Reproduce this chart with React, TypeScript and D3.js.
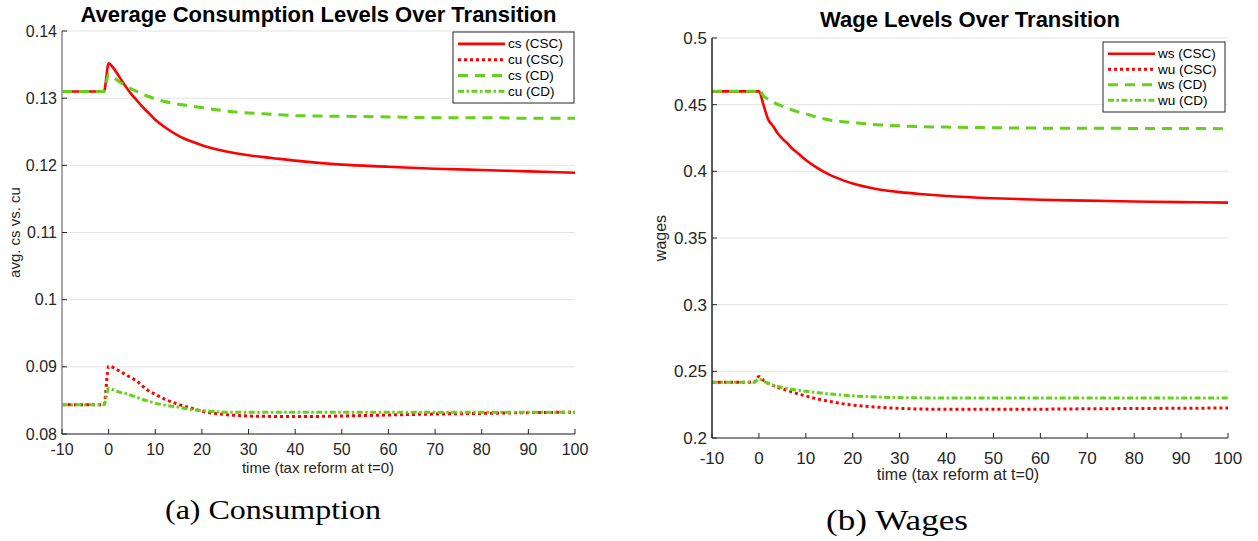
import * as d3 from 'd3'

// time grid (years since reform)
const tGrid = [-10, -5, -1, 0, 1, 2, 3, 4, 5, 6, 7, 8, 10, 12, 15, 18, 20, 25, 30, 35, 40, 50, 60, 70, 80, 90, 100]

// consumption panel
const csCSC = [0.131, 0.131, 0.131, 0.1352, 0.1345, 0.1335, 0.1324, 0.1314, 0.1305, 0.1297, 0.1289, 0.1282, 0.1268, 0.1257, 0.1244, 0.1235, 0.123, 0.1221, 0.1215, 0.1211, 0.1207, 0.1201, 0.1198, 0.1195, 0.1193, 0.1191, 0.1189]
const cuCSC = [0.08435, 0.08435, 0.08435, 0.0901, 0.0899, 0.0895, 0.0891, 0.0887, 0.0883, 0.0879, 0.0873, 0.0867, 0.0859, 0.0852, 0.0844, 0.0838, 0.0834, 0.0829, 0.08268, 0.08262, 0.08259, 0.08268, 0.08283, 0.08297, 0.08307, 0.08318, 0.08324]
const csCD = [0.131, 0.131, 0.131, 0.1336, 0.1331, 0.1326, 0.1321, 0.1317, 0.1313, 0.131, 0.1306, 0.1304, 0.1299, 0.1295, 0.1291, 0.1288, 0.1286, 0.1281, 0.1278, 0.1276, 0.1274, 0.1273, 0.1272, 0.1271, 0.1271, 0.127, 0.127]
const cuCD = [0.08435, 0.08435, 0.08435, 0.0868, 0.0866, 0.0863, 0.0861, 0.086, 0.0857, 0.0855, 0.0852, 0.085, 0.0846, 0.0843, 0.084, 0.0836, 0.0835, 0.08325, 0.08322, 0.08322, 0.08322, 0.08322, 0.08322, 0.08323, 0.08323, 0.08324, 0.08324]

// wage panel
const wsCSC = [0.46, 0.46, 0.46, 0.46, 0.4495, 0.4388, 0.434, 0.4285, 0.4245, 0.4213, 0.4175, 0.4145, 0.4085, 0.4035, 0.3975, 0.3932, 0.3908, 0.3868, 0.3844, 0.3828, 0.3815, 0.3798, 0.3787, 0.378, 0.3774, 0.3769, 0.3765]
const wuCSC = [0.2418, 0.2418, 0.2418, 0.2462, 0.243, 0.241, 0.2395, 0.238, 0.2368, 0.2357, 0.2346, 0.2335, 0.2315, 0.2297, 0.2275, 0.2256, 0.2247, 0.2232, 0.2222, 0.2217, 0.2215, 0.2215, 0.2216, 0.2219, 0.2221, 0.2223, 0.2225]
const wsCD = [0.46, 0.46, 0.46, 0.4615, 0.4565, 0.454, 0.452, 0.4503, 0.4489, 0.4475, 0.4462, 0.445, 0.4432, 0.441, 0.4385, 0.4372, 0.4366, 0.435, 0.4341, 0.4335, 0.4332, 0.4327, 0.4324, 0.4323, 0.4322, 0.4321, 0.432]
const wuCD = [0.2418, 0.2418, 0.2418, 0.2443, 0.2425, 0.241, 0.2397, 0.2387, 0.2379, 0.2372, 0.2366, 0.236, 0.235, 0.2342, 0.2331, 0.2321, 0.2316, 0.2308, 0.2303, 0.2301, 0.23, 0.23, 0.23, 0.23, 0.23, 0.23, 0.23]

const xTicks = [-10, 0, 10, 20, 30, 40, 50, 60, 70, 80, 90, 100]
const cTicks = [0.08, 0.09, 0.1, 0.11, 0.12, 0.13, 0.14]
const wTicks = [0.2, 0.25, 0.3, 0.35, 0.4, 0.45, 0.5]

const RED = '#ff0000'
const GREEN = '#66d11a'

interface Series {
  name: string
  values: number[]
  color: string
  dash: string
  width: number
}

interface PanelProps {
  x0: number
  x1: number
  yTop: number
  yBot: number
  domain: [number, number]
  yTicks: number[]
  tickFmt: (v: number) => string
  series: Series[]
  title: string
  titleY: number
  titleSize: number
  yLabel: string
  yLabelX: number
  yLabelSize: number
  xLabelX: number
  xLabelY: number
  xLabelSize: number
  tickSize: number
  xTickGap: number
  yAxisColor: string
  legend: { x: number; y: number; w: number; h: number }
}

function Panel(p: PanelProps) {
  const x = d3.scaleLinear().domain([-10, 100]).range([p.x0, p.x1])
  const y = d3.scaleLinear().domain(p.domain).range([p.yBot, p.yTop])
  const line = d3.line<number>()
    .x((_, i) => x(tGrid[i]))
    .y(d => y(d))
    .curve(d3.curveMonotoneX)
  const font = 'Liberation Sans, Arial, sans-serif'
  const rowH = (p.legend.h - 8) / 4

  return (
    <g fontFamily={font}>
      <text x={(p.x0 + p.x1) / 2} y={p.titleY} textAnchor="middle" fontWeight="bold" fontSize={p.titleSize} fill="#000">{p.title}</text>
      {p.yTicks.map(t => (
        <line key={'g' + t} x1={p.x0} x2={p.x1} y1={y(t)} y2={y(t)} stroke="#e3e3e3" strokeWidth={1} />
      ))}
      {p.series.map(s => (
        <path key={s.name} d={line(s.values) || ''} fill="none" stroke={s.color} strokeWidth={s.width} strokeDasharray={s.dash} />
      ))}
      {/* axes */}
      <line x1={p.x0} x2={p.x1} y1={p.yBot} y2={p.yBot} stroke="#262626" strokeWidth={1.2} />
      <line x1={p.x0} x2={p.x0} y1={p.yTop} y2={p.yBot} stroke={p.yAxisColor} strokeWidth={1.5} />
      {xTicks.map(t => (
        <g key={'x' + t}>
          <line x1={x(t)} x2={x(t)} y1={p.yBot} y2={p.yBot - 5} stroke="#262626" />
          <text x={x(t)} y={p.yBot + p.xTickGap} textAnchor="middle" fontSize={p.tickSize} fill="#262626">{t}</text>
        </g>
      ))}
      {p.yTicks.map(t => (
        <g key={'y' + t}>
          <line x1={p.x0} x2={p.x0 + 5} y1={y(t)} y2={y(t)} stroke="#262626" />
          <text x={p.x0 - 5} y={y(t) + p.tickSize * 0.35} textAnchor="end" fontSize={p.tickSize} fill="#262626">{p.tickFmt(t)}</text>
        </g>
      ))}
      <text x={p.xLabelX} y={p.xLabelY} textAnchor="middle" fontSize={p.xLabelSize} fill="#262626">time (tax reform at t=0)</text>
      <text transform={`translate(${p.yLabelX},${(p.yTop + p.yBot) / 2}) rotate(-90)`} textAnchor="middle" fontSize={p.yLabelSize} fill="#262626">{p.yLabel}</text>
      {/* legend */}
      <rect x={p.legend.x} y={p.legend.y} width={p.legend.w} height={p.legend.h} fill="#fff" stroke="#262626" strokeWidth={1} />
      {p.series.map((s, i) => {
        const cy = p.legend.y + 4 + rowH * (i + 0.5)
        return (
          <g key={'l' + s.name}>
            <line x1={p.legend.x + 5} x2={p.legend.x + 52} y1={cy} y2={cy} stroke={s.color} strokeWidth={s.width} strokeDasharray={s.dash} />
            <text x={p.legend.x + 55} y={cy + 4.5} fontSize={13.5} fill="#000">{s.name}</text>
          </g>
        )
      })}
    </g>
  )
}

const fmt = (v: number) => d3.format('')(+v.toFixed(2))

export default function App() {
  const cSeries: Series[] = [
    { name: 'cs (CSC)', values: csCSC, color: RED, dash: '', width: 2.6 },
    { name: 'cu (CSC)', values: cuCSC, color: RED, dash: '3,3', width: 3 },
    { name: 'cs (CD)', values: csCD, color: GREEN, dash: '10,7', width: 3 },
    { name: 'cu (CD)', values: cuCD, color: GREEN, dash: '6,2.5,2.5,2.5', width: 3 },
  ]
  const wSeries: Series[] = [
    { name: 'ws (CSC)', values: wsCSC, color: RED, dash: '', width: 2.6 },
    { name: 'wu (CSC)', values: wuCSC, color: RED, dash: '3,3', width: 3 },
    { name: 'ws (CD)', values: wsCD, color: GREEN, dash: '10,7', width: 3 },
    { name: 'wu (CD)', values: wuCD, color: GREEN, dash: '6,2.5,2.5,2.5', width: 3 },
  ]
  return (
    <svg width={1258} height={541} style={{ position: 'absolute', left: 0, top: 0, background: '#fff' }}>
      <rect width={1258} height={541} fill="#fff" />
      <Panel
        x0={62} x1={575} yTop={31} yBot={434} domain={[0.08, 0.14]} yTicks={cTicks} tickFmt={fmt}
        series={cSeries} title="Average Consumption Levels Over Transition" titleY={22} titleSize={22}
        yLabel="avg. cs vs. cu" yLabelX={20} yLabelSize={15} xLabelX={318} xLabelY={473} xLabelSize={15}
        tickSize={16} xTickGap={21} yAxisColor="#8a8a8a" legend={{ x: 453, y: 32, w: 121, h: 71 }}
      />
      <Panel
        x0={712} x1={1228} yTop={38} yBot={438} domain={[0.2, 0.5]} yTicks={wTicks} tickFmt={fmt}
        series={wSeries} title="Wage Levels Over Transition" titleY={27} titleSize={22}
        yLabel="wages" yLabelX={666} yLabelSize={16} xLabelX={958} xLabelY={480} xLabelSize={16}
        tickSize={17} xTickGap={26} yAxisColor="#262626" legend={{ x: 1103, y: 42, w: 122, h: 70 }}
      />
      <text x={273} y={519} textAnchor="middle" fontFamily="Liberation Serif, serif" fontSize={28} textLength={216} lengthAdjust="spacingAndGlyphs" fill="#000">(a) Consumption</text>
      <text x={897} y={530} textAnchor="middle" fontFamily="Liberation Serif, serif" fontSize={29} textLength={142} lengthAdjust="spacingAndGlyphs" fill="#000">(b) Wages</text>
    </svg>
  )
}
